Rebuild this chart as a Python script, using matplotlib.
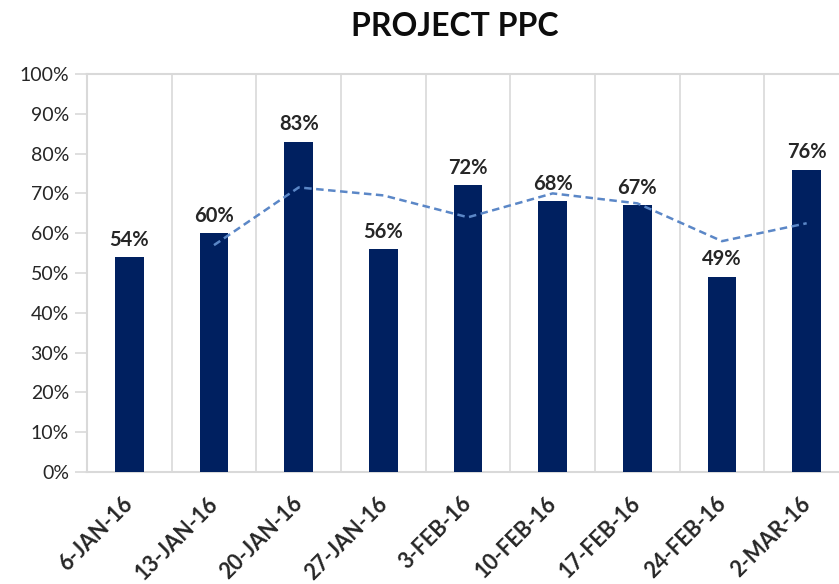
import numpy as np
import matplotlib
matplotlib.use("Agg")
import matplotlib.pyplot as plt
import matplotlib.transforms as mtransforms
from matplotlib.ticker import PercentFormatter

# data
weeks = ["6-JAN-16", "13-JAN-16", "20-JAN-16", "27-JAN-16", "3-FEB-16",
         "10-FEB-16", "17-FEB-16", "24-FEB-16", "2-MAR-16"]
ppc = [54, 60, 83, 56, 72, 68, 67, 49, 76]
# dashed trend line (starts at the second week)
trend_weeks = weeks[1:]
trend = [57, 71.5, 69.5, 64, 70, 67.5, 58, 62.5]

plt.rcParams["font.family"] = ["Lato", "DejaVu Sans"]

BAR = "#002060"
TREND = "#5b87c7"
GRID = "#d9d9d9"
TXT = "#262626"

fig = plt.figure(figsize=(8.39, 5.84), dpi=100)
ax = fig.add_axes([87 / 839, 1 - 472 / 584, 762 / 839, 398 / 584])

x = np.arange(len(weeks))
ax.bar(x, ppc, width=0.34, color=BAR, zorder=3)
tx = np.arange(1, len(weeks))
ax.plot(tx, trend, color=TREND, lw=1.8, ls=(0, (3, 1.8)), zorder=4)

for xi, v in zip(x, ppc):
    ax.text(xi, v + 1.9, f"{v}%", ha="center", va="bottom",
            fontsize=14.5, fontweight="bold", color=TXT, zorder=5)

ax.set_xlim(-0.5, len(weeks) - 0.5)
ax.set_ylim(0, 100)
ax.yaxis.set_major_formatter(PercentFormatter(decimals=0))
ax.set_yticks(np.arange(0, 101, 10))

# vertical separators between categories
ax.set_xticks(np.arange(-0.5, len(weeks), 1), minor=True)
ax.grid(True, which="minor", axis="x", color=GRID, lw=1.2, zorder=0)
ax.set_xticks(x)
ax.set_xticklabels(weeks, rotation=45, ha="right", rotation_mode="anchor",
                   fontsize=15.5, fontweight="bold", color=TXT)
ax.tick_params(axis="x", which="both", length=0, pad=15)
ax.tick_params(axis="y", length=9, color=GRID, width=1.2,
               labelsize=14, labelcolor=TXT, pad=4)

# nudge the slanted labels a bit to the left
shift = mtransforms.ScaledTranslation(-7 / 100, 0, fig.dpi_scale_trans)
for lab in ax.get_xticklabels():
    lab.set_transform(lab.get_transform() + shift)

for side in ["left", "top", "bottom"]:
    ax.spines[side].set_color(GRID)
    ax.spines[side].set_linewidth(1.5)
ax.spines["right"].set_visible(False)

fig.text(455 / 839, 1 - 27 / 584, "PROJECT PPC", ha="center", va="center",
         fontsize=23, fontweight="bold", color="#0d0d0d")

fig.savefig("out.png", dpi=100)
